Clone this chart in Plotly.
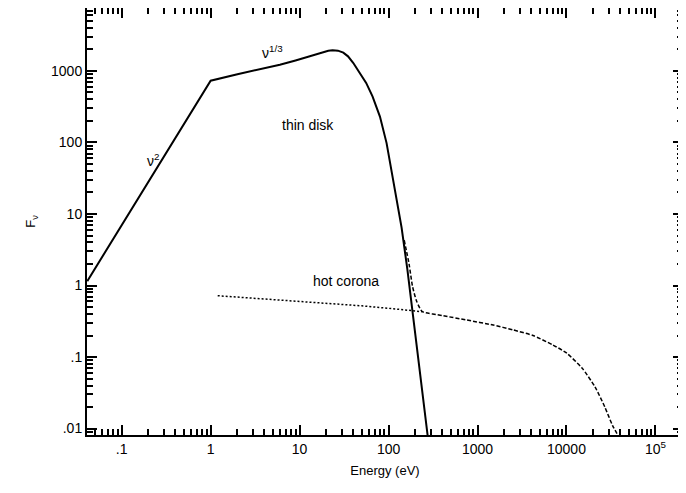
import plotly.graph_objects as go

# thin disk spectrum (solid)
disk_e = [0.041, 1.0, 2.0, 4.0, 6.0, 9.0, 12.0, 15.0, 18.0, 21.0, 23.5, 27.0, 31.0, 35.0,
          40.0, 47.0, 56.0, 66.0, 80.0, 95.0, 117.0, 140.0, 163.0, 190.0, 220.0, 250.0, 275.0]
disk_f = [1.15, 730, 900, 1080, 1220, 1400, 1550, 1700, 1830, 1910, 1940, 1920, 1800, 1600,
          1300, 935, 680, 440, 230, 98, 23, 6.5, 1.66, 0.35, 0.07, 0.018, 0.008]

# hot corona (dotted)
cor_e = [1.2, 10, 50, 120, 240]
cor_f = [0.72, 0.6, 0.52, 0.47, 0.43]

# total (dashed)
tot_e = [150, 170, 186, 205, 225, 240, 400, 750, 1500, 2500, 4200, 7000, 10000,
         15000, 21000, 27000, 33000, 38000]
tot_f = [4.3, 2.0, 0.97, 0.62, 0.48, 0.43, 0.38, 0.33, 0.28, 0.24, 0.2, 0.148, 0.114,
         0.07, 0.038, 0.02, 0.011, 0.008]

x_ticks = [0.1, 1, 10, 100, 1000, 10000, 100000]
x_labels = [".1", "1", "10", "100", "1000", "10000", "10<sup>5</sup>"]
y_ticks = [0.01, 0.1, 1, 10, 100, 1000]
y_labels = [".01", ".1", "1", "10", "100", "1000"]

minor_x = [m * 10 ** d for d in range(-2, 6) for m in range(2, 10)]
minor_y = [m * 10 ** d for d in range(-3, 4) for m in range(2, 10)]

fig = go.Figure()
fig.add_trace(go.Scatter(x=disk_e, y=disk_f, mode="lines", line=dict(color="black", width=2)))
fig.add_trace(go.Scatter(x=cor_e, y=cor_f, mode="lines", line=dict(color="black", width=1.5, dash="2px,2px")))
fig.add_trace(go.Scatter(x=tot_e, y=tot_f, mode="lines", line=dict(color="black", width=1.5, dash="4px,2px", shape="spline", smoothing=0.6)))
# invisible trace so the top/right axes get drawn
fig.add_trace(go.Scatter(x=[1], y=[1], xaxis="x2", yaxis="y2", mode="markers",
                         marker=dict(opacity=0), hoverinfo="skip"))

txt = dict(size=14, color="black", family="Liberation Sans, Arial")
fig.add_annotation(x=0.70, y=3.27, text="ν<sup>1/3</sup>", showarrow=False, font=txt)
fig.add_annotation(x=-0.65, y=1.75, text="ν<sup>2</sup>", showarrow=False, font=txt)
fig.add_annotation(x=1.09, y=2.25, text="thin disk", showarrow=False, font=txt)
fig.add_annotation(x=1.52, y=0.07, text="hot corona", showarrow=False, font=txt)

def ax(rng, vals, labels, minor_vals, show_labels):
    return dict(type="log", range=rng, showgrid=False, zeroline=False, showline=True,
                linecolor="black", linewidth=2, ticks="inside", ticklen=10, tickwidth=2,
                tickcolor="black", tickfont=dict(size=14, color="black"),
                tickmode="array", tickvals=vals, ticktext=labels, showticklabels=show_labels,
                minor=dict(ticks="inside", ticklen=6, tickwidth=2, tickcolor="black",
                           tickmode="array", tickvals=minor_vals))

xr = [-1.39, 5.31]
yr = [-2.09, 3.88]
fig.update_layout(
    xaxis=dict(**ax(xr, x_ticks, x_labels, minor_x, True),
               title=dict(text="Energy (eV)", font=dict(size=13, color="black"), standoff=10)),
    yaxis=dict(**ax(yr, y_ticks, y_labels, minor_y, True),
               title=dict(text="F<sub>ν</sub>", font=dict(size=13, color="black"), standoff=12)),
    xaxis2=dict(**ax(xr, x_ticks, x_labels, minor_x, False), overlaying="x", side="top", anchor="y"),
    yaxis2=dict(**ax(yr, y_ticks, y_labels, minor_y, False), overlaying="y", side="right", anchor="x"),
    width=678, height=485, showlegend=False, plot_bgcolor="white",
    paper_bgcolor="white", font=dict(family="Liberation Sans, Arial", color="black"),
    margin=dict(l=79, r=3, t=0, b=58, autoexpand=False))
fig.write_html("out.html")
